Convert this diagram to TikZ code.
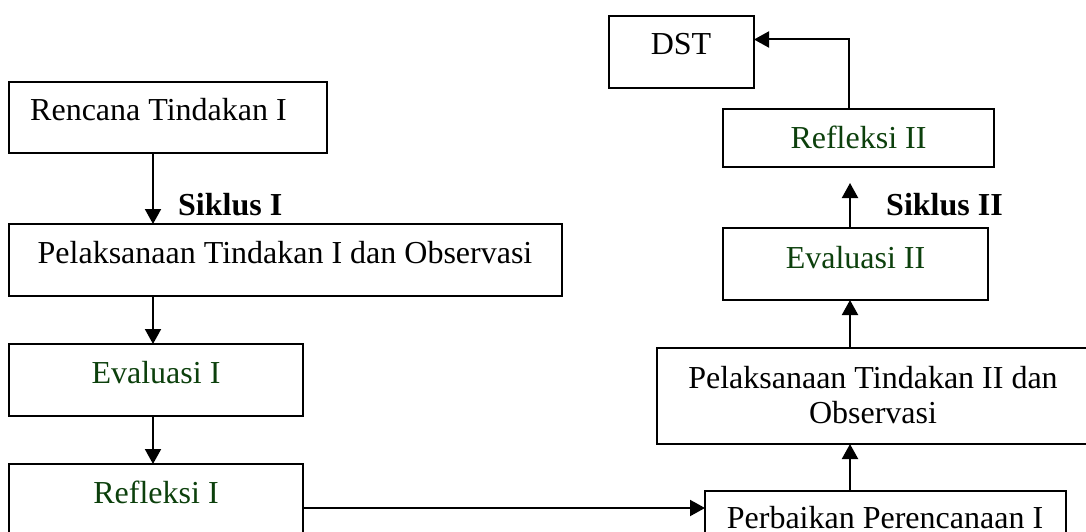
\documentclass[tikz,border=0pt]{standalone}
\usepackage{fontspec}
\setmainfont{Liberation Serif}
\usetikzlibrary{arrows.meta}
\definecolor{dkgreen}{RGB}{12,64,12}
\begin{document}
\begin{tikzpicture}[x=1pt,y=-1pt,
  box/.style={draw=black,line width=2.2pt,rectangle,inner sep=0pt,outer sep=0pt},
  lbl/.style={anchor=base,inner sep=0pt,font=\fontsize{32}{35}\selectfont},
  glbl/.style={lbl,text=dkgreen},
  cyc/.style={anchor=base west,inner sep=0pt,font=\fontsize{32}{35}\selectfont\bfseries},
  conn/.style={line width=2pt,-{Triangle[length=15pt,width=16pt]}}]
\useasboundingbox (0,0) rectangle (1086,532);
% boxes
\node[box,minimum width=318pt,minimum height=71pt] (rti) at (168,117.5) {};
\node[box,minimum width=553pt,minimum height=72pt] (pti) at (285.5,260) {};
\node[box,minimum width=294pt,minimum height=72pt] (ev1) at (156,380) {};
\node[box,minimum width=294pt,minimum height=72pt] (rf1) at (156,500) {};
\node[box,minimum width=145pt,minimum height=72pt] (dst) at (681.5,52) {};
\node[box,minimum width=271pt,minimum height=58pt] (rf2) at (858.5,138) {};
\node[box,minimum width=265pt,minimum height=72pt] (ev2) at (855.5,264) {};
\node[box,minimum width=432pt,minimum height=96pt] (pt2) at (873,396) {};
\node[box,minimum width=361pt,minimum height=72pt] (pp) at (885.5,527) {};
% texts
\node[lbl] (trti) at (158.5,121) {Rencana Tindakan I};
\node[lbl] (tpti) at (285,263) {Pelaksanaan Tindakan I dan Observasi};
\node[glbl] (tev1) at (156,383) {Evaluasi I};
\node[glbl] (trf1) at (156,503) {Refleksi I};
\node[lbl] (tdst) at (681,55) {DST};
\node[glbl] (trf2) at (858.5,148) {Refleksi II};
\node[glbl] (tev2) at (855.5,268) {Evaluasi II};
\node[lbl] (tpt2a) at (873,388) {Pelaksanaan Tindakan II dan};
\node[lbl] (tpt2b) at (873,423) {Observasi};
\node[lbl,text depth=0pt] (tpp) at (885,528) {Perbaikan Perencanaan I};
\node[cyc] (s1) at (178,215) {Siklus I};
\node[cyc] (s2) at (886,215) {Siklus II};
% helper coordinates
\coordinate (xl) at (153,0);
\coordinate (xr) at (850,0);
\coordinate (xd) at (849,0);
\coordinate (yd) at (0,39.5);
\coordinate (ya) at (0,508);
\coordinate (e2tip) at (850,183);
% connectors
\draw[conn] (rti.south -| xl) -- (pti.north -| xl);
\draw[conn] (pti.south -| xl) -- (ev1.north -| xl);
\draw[conn] (ev1.south -| xl) -- (rf1.north -| xl);
\draw[conn] (rf1.east |- ya) -- (pp.west |- ya);
\draw[conn] (pp.north -| xr) -- (pt2.south -| xr);
\draw[conn] (pt2.north -| xr) -- (ev2.south -| xr);
\draw[conn] (ev2.north -| xr) -- (e2tip);
\draw[conn] (rf2.north -| xd) |- (dst.east |- yd);
\end{tikzpicture}
\end{document}
